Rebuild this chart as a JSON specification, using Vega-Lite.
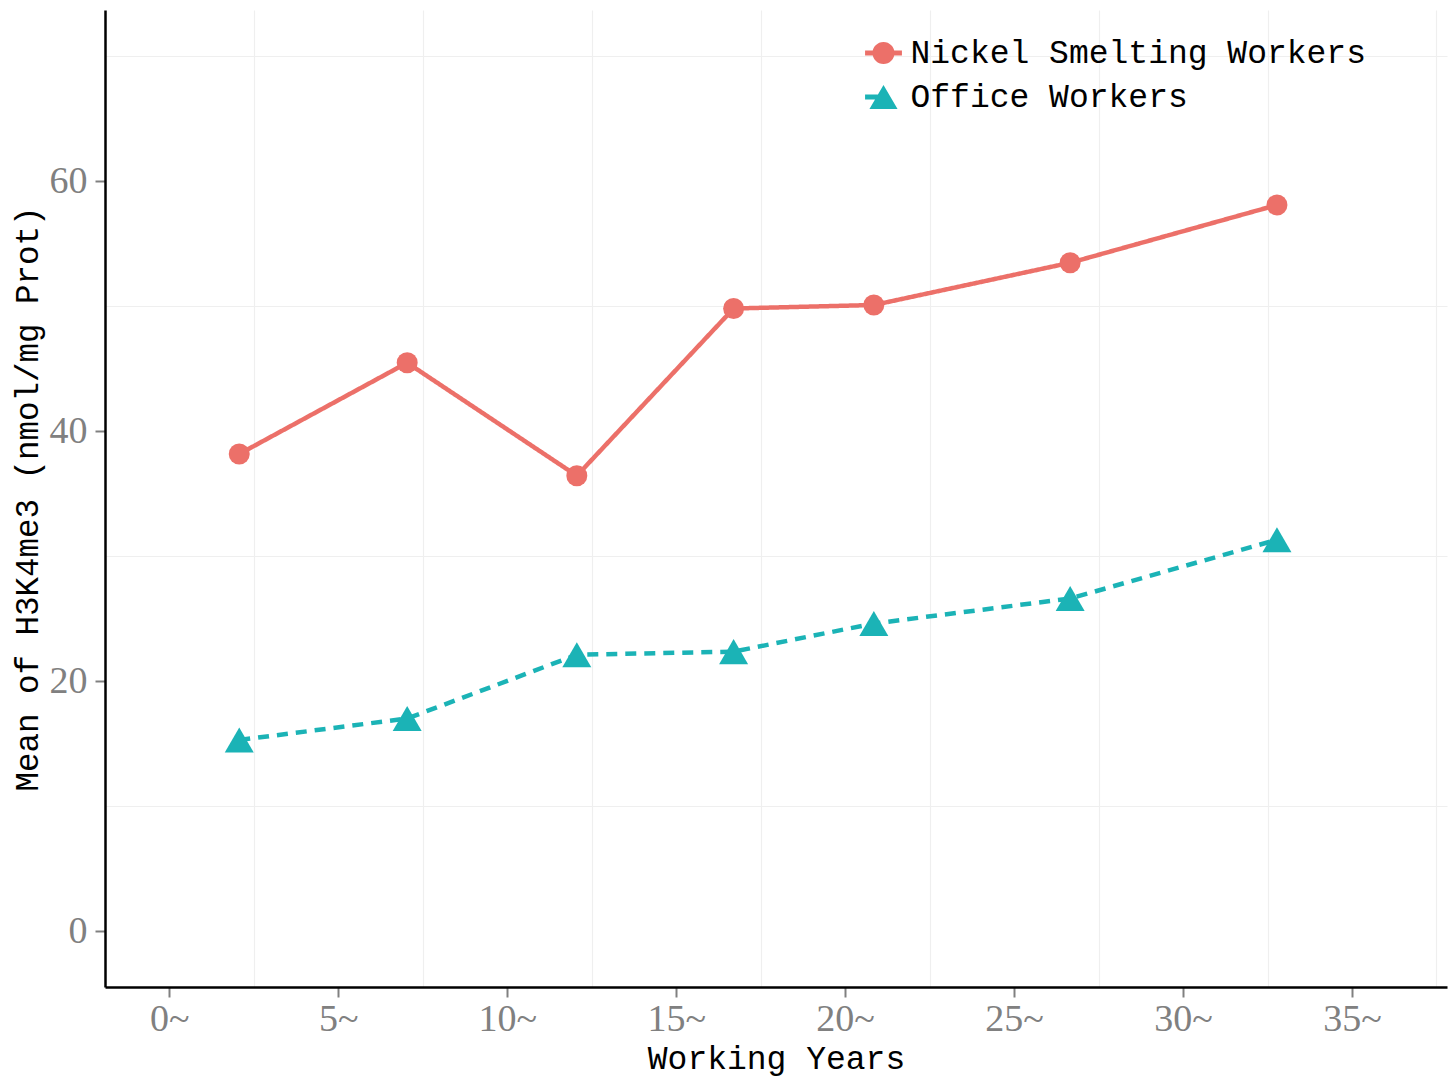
{
  "$schema": "https://vega.github.io/schema/vega-lite/v6.json",
  "width": 1342,
  "height": 977,
  "autosize": {"type": "none"},
  "padding": {"left": 105, "top": 10, "right": 5, "bottom": 91},
  "background": "white",
  "config": {
    "view": {"stroke": null},
    "axis": {"gridColor": "#EFEFEF", "gridWidth": 1.2}
  },
  "data": {
    "values": [
      {"years": 2.07, "mean": 38.16, "group": "Nickel Smelting Workers"},
      {"years": 7.04, "mean": 45.46, "group": "Nickel Smelting Workers"},
      {"years": 12.06, "mean": 36.42, "group": "Nickel Smelting Workers"},
      {"years": 16.70, "mean": 49.8, "group": "Nickel Smelting Workers"},
      {"years": 20.85, "mean": 50.08, "group": "Nickel Smelting Workers"},
      {"years": 26.66, "mean": 53.46, "group": "Nickel Smelting Workers"},
      {"years": 32.78, "mean": 58.08, "group": "Nickel Smelting Workers"},
      {"years": 2.07, "mean": 15.28, "group": "Office Workers"},
      {"years": 7.04, "mean": 17.0, "group": "Office Workers"},
      {"years": 12.06, "mean": 22.1, "group": "Office Workers"},
      {"years": 16.70, "mean": 22.35, "group": "Office Workers"},
      {"years": 20.85, "mean": 24.6, "group": "Office Workers"},
      {"years": 26.66, "mean": 26.6, "group": "Office Workers"},
      {"years": 32.78, "mean": 31.3, "group": "Office Workers"}
    ]
  },
  "resolve": {"axis": {"x": "independent", "y": "independent"}, "scale": {"shape": "independent"}},
  "layer": [
    {
      "mark": {"type": "line", "strokeWidth": 4.5},
      "encoding": {
        "x": {"field": "years", "type": "quantitative",
          "scale": {"domain": [-1.903, 37.812], "nice": false, "zero": false},
          "axis": {"orient": "bottom", "values": [2.5, 7.5, 12.5, 17.5, 22.5, 27.5, 32.5, 37.5], "grid": true, "labels": false, "ticks": false, "domain": false, "title": null}},
        "y": {"field": "mean", "type": "quantitative",
          "scale": {"domain": [-4.48, 73.68], "nice": false, "zero": false},
          "axis": {"orient": "left", "values": [10, 30, 50, 70], "grid": true, "labels": false, "ticks": false, "domain": false, "title": null}},
        "color": {"field": "group", "type": "nominal",
          "scale": {"domain": ["Nickel Smelting Workers", "Office Workers"], "range": ["#EC7069", "#1BB3B6"]}, "legend": null},
        "strokeDash": {"field": "group", "type": "nominal",
          "scale": {"domain": ["Nickel Smelting Workers", "Office Workers"], "range": [[1, 0], [11, 8]]},
          "legend": null}
      }
    },
    {
      "mark": {"type": "point", "filled": true, "opacity": 1},
      "encoding": {
        "x": {"field": "years", "type": "quantitative",
          "axis": {"orient": "bottom", "values": [0, 5, 10, 15, 20, 25, 30, 35], "grid": false, "labelExpr": "datum.value + '~'",
            "labelFont": "Liberation Serif", "labelFontSize": 38, "labelColor": "#808080",
            "tickColor": "#808080", "tickSize": 10, "tickWidth": 2, "labelPadding": 3,
            "domainColor": "#000000", "domainWidth": 2.5,
            "title": "Working Years", "titleFont": "Liberation Mono", "titleFontSize": 33, "titleFontWeight": "normal", "titleColor": "#000000", "titlePadding": 4}},
        "y": {"field": "mean", "type": "quantitative",
          "axis": {"orient": "left", "values": [0, 20, 40, 60], "grid": false,
            "labelFont": "Liberation Serif", "labelFontSize": 38, "labelColor": "#808080",
            "tickColor": "#808080", "tickSize": 10, "tickWidth": 2, "labelPadding": 8,
            "domainColor": "#000000", "domainWidth": 2.5,
            "title": "Mean of H3K4me3 (nmol/mg Prot)", "titleFont": "Liberation Mono", "titleFontSize": 32.5, "titleFontWeight": "normal", "titleColor": "#000000", "titlePadding": 5}},
        "color": {"field": "group", "type": "nominal",
          "scale": {"domain": ["Nickel Smelting Workers", "Office Workers"], "range": ["#EC7069", "#1BB3B6"]}, "legend": null},
        "shape": {"field": "group", "type": "nominal",
          "scale": {"domain": ["Nickel Smelting Workers", "Office Workers"], "range": ["circle", "triangle-up"]}, "legend": null},
        "size": {"field": "group", "type": "nominal",
          "scale": {"domain": ["Nickel Smelting Workers", "Office Workers"], "range": [440, 840]}, "legend": null}
      }
    },
    {
      "mark": {"type": "point", "filled": true, "opacity": 0},
      "encoding": {
        "x": {"field": "years", "type": "quantitative", "axis": null},
        "y": {"field": "mean", "type": "quantitative", "axis": null},
        "color": {"field": "group", "type": "nominal",
          "scale": {"domain": ["Nickel Smelting Workers", "Office Workers"], "range": ["#EC7069", "#1BB3B6"]}, "legend": null},
        "shape": {"field": "group", "type": "nominal",
          "scale": {"domain": ["Nickel Smelting Workers", "Office Workers"],
            "range": ["M-0.97,-0.13 L0.97,-0.13 L0.97,0.13 L-0.97,0.13 Z M0.58,0 A0.58,0.58 0 1,1 -0.58,0 A0.58,0.58 0 1,1 0.58,0 Z",
                      "M-0.97,-0.13 L-0.3,-0.13 L-0.3,0.13 L-0.97,0.13 Z M0,-0.63 L0.74,0.63 L-0.74,0.63 Z"]},
          "legend": {"title": null, "orient": "none", "legendX": 759.5, "legendY": 24, "padding": 0,
            "labelFont": "Liberation Mono", "labelFontSize": 33, "labelColor": "#000000", "labelOffset": 8, "labelLimit": 0,
            "symbolSize": 1444, "symbolStrokeWidth": 0, "rowPadding": 8, "symbolOpacity": 1,
            "symbolFillColor": {"expr": "scale('color', datum.value)"}}}
      }
    }
  ]
}
